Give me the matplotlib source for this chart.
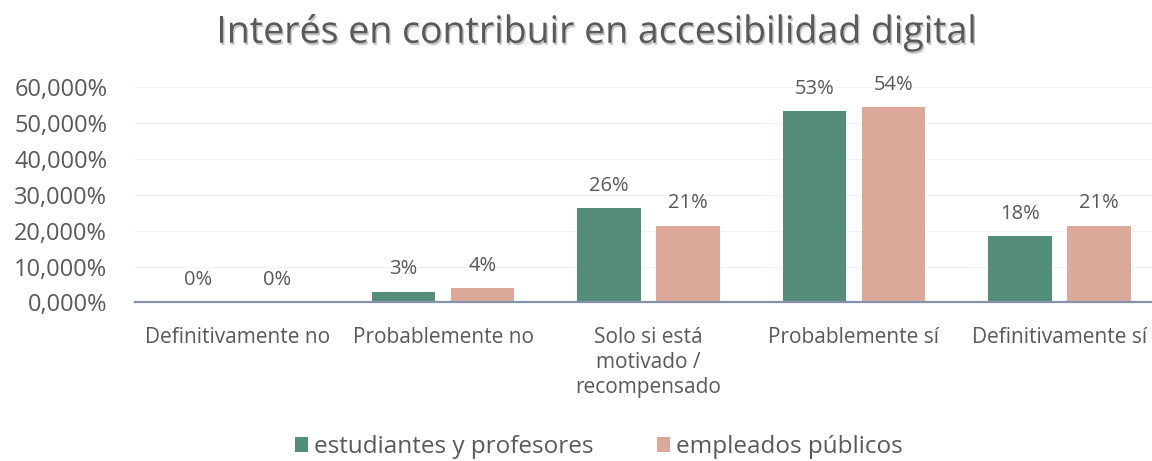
import matplotlib.pyplot as plt
import matplotlib.patheffects as pe
import numpy as np

# survey answers and share of each group (percent)
categorias = ["Definitivamente no", "Probablemente no",
              "Solo si está\nmotivado /\nrecompensado",
              "Probablemente sí", "Definitivamente sí"]
estudiantes = [0.0, 3.0, 26.2, 53.3, 18.4]
empleados = [0.0, 3.9, 21.3, 54.4, 21.3]
series_nombres = ["estudiantes y profesores", "empleados públicos"]
yticks = [0, 10, 20, 30, 40, 50, 60]

verde = "#558e78"
rosa = "#dba89a"
gris = "#595959"

plt.rcParams['font.family'] = ['Open Sans', 'DejaVu Sans']

fig = plt.figure(figsize=(11.52, 4.61), dpi=100)
ax = fig.add_axes([135 / 1152, 0.344, 1027 / 1152, 0.467])

x = np.arange(len(categorias))
w = 0.31
gap = 0.075
b1 = ax.bar(x - (w + gap) / 2, estudiantes, w, color=verde, label=series_nombres[0])
b2 = ax.bar(x + (w + gap) / 2, empleados, w, color=rosa, label=series_nombres[1])

for bars in (b1, b2):
    for r in bars:
        h = r.get_height()
        ax.annotate(f"{h:.0f}%", (r.get_x() + r.get_width() / 2, h),
                    xytext=(0, 9), textcoords="offset points",
                    ha="center", va="bottom", fontsize=14.5, color=gris)

ax.set_xlim(-0.5, len(categorias) - 0.5)
ax.set_ylim(0, 60)
ax.set_yticks(yticks)
ax.set_yticklabels([f"{v},000%" for v in yticks], fontsize=17, color=gris)
ax.set_xticks(x)
ax.set_xticklabels(categorias, fontsize=15, color=gris, linespacing=1.25, va="top")
ax.tick_params(axis="both", length=0)
ax.tick_params(axis="x", pad=18)
ax.tick_params(axis="y", pad=20)
ax.grid(axis="y", color="#f2f2f2", linewidth=0.8)
ax.set_axisbelow(True)
for s in ("top", "right", "left"):
    ax.spines[s].set_visible(False)
ax.spines["bottom"].set_color("#8493ab")
ax.spines["bottom"].set_linewidth(1.6)

fig.text(0.518, 0.93, "Interés en contribuir en accesibilidad digital",
         ha="center", va="center", fontsize=27, color=gris,
         path_effects=[pe.withSimplePatchShadow(offset=(1, -1.5), alpha=0.25)])

fig.legend(handles=[b1, b2], labels=series_nombres, loc="center",
           bbox_to_anchor=(0.52, 0.03), ncol=2, frameon=False,
           fontsize=17.5, labelcolor=gris, handlelength=0.55, handleheight=0.55,
           handletextpad=0.25, columnspacing=2.6)

fig.savefig("out.png", dpi=100, facecolor="white")
